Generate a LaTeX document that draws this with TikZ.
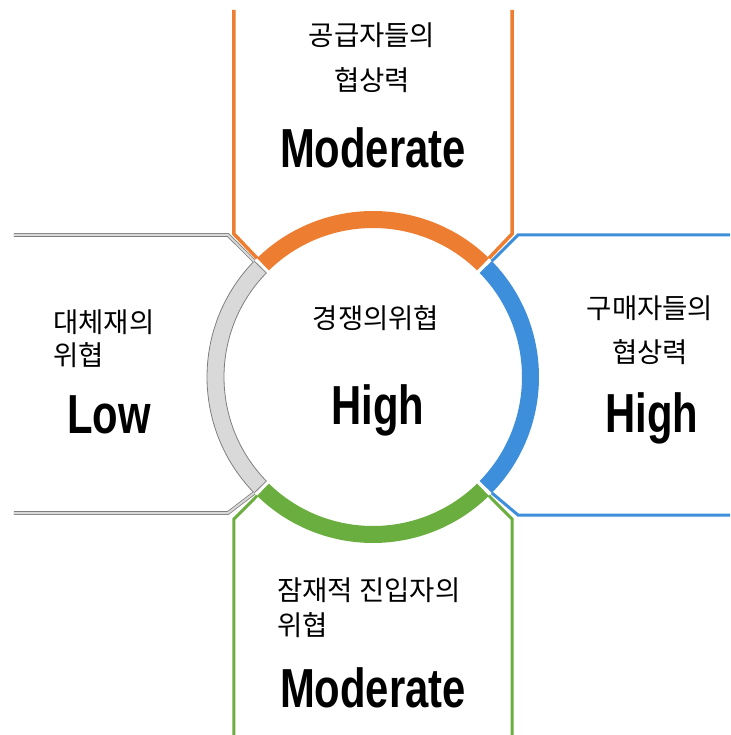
\documentclass[tikz,border=0pt]{standalone}
\usepackage{fontspec}
\setmainfont{Liberation Sans}
\newfontfamily\krfont{Noto Sans CJK KR}
\newfontfamily\levelfont[FakeStretch=0.76]{Liberation Sans}
\usepackage{tikz}
\usetikzlibrary{calc}
\definecolor{supplyorange}{HTML}{ED7D31}
\definecolor{buyerblue}{HTML}{3D8EDB}
\definecolor{entrygreen}{HTML}{6BAE40}
\definecolor{substfill}{HTML}{D9D9D9}
\definecolor{substedge}{HTML}{7F7F7F}
\newcommand{\ringpart}[3]{ \filldraw[#3] (#1:149pt) arc (#1:#2:149pt) -- (#2:166pt) arc (#2:#1:166pt) -- cycle;}
\newcommand{\kortext}[4]{\node[anchor=#3, inner sep=0pt, font=\krfont\fontsize{27.5}{30}\selectfont] (#1) at (#2) {#4};}
\newcommand{\leveltext}[3]{\node[inner sep=0pt, font=\levelfont\bfseries\fontsize{55}{60}\selectfont] (#1) at (#2) {#3};}

\begin{document}
\begin{tikzpicture}[x=1pt,y=1pt]
\useasboundingbox (-373,-358) rectangle (357,377);
% ring parts
\ringpart{134.3}{45.7}{fill=supplyorange, draw=none}
\ringpart{44.3}{-44.3}{fill=buyerblue, draw=none}
\ringpart{-45.7}{-134.3}{fill=entrygreen, draw=none}
\ringpart{135.7}{224.3}{fill=substfill, draw=substedge, line width=0.8pt}
% frames going out
\draw[supplyorange, line width=3.5pt] (-139,367) -- (-139,143) -- (134.3:166pt);
\draw[supplyorange, line width=3.5pt] (139,367) -- (139,143) -- (45.7:166pt);
\draw[buyerblue, line width=3pt] (357,142) -- (145,142) -- (44.3:166pt);
\draw[buyerblue, line width=3pt] (357,-138) -- (145,-138) -- (-44.3:166pt);
\draw[entrygreen, line width=3pt] (-139,-358) -- (-139,-142) -- (-134.3:166pt);
\draw[entrygreen, line width=3pt] (139,-358) -- (139,-142) -- (-45.7:166pt);
\draw[substedge, line width=0.8pt, double=substfill, double distance=2pt] (-359,142) -- (-145,142) -- (135.7:166pt);
\draw[substedge, line width=0.8pt, double=substfill, double distance=2pt] (-359,-136) -- (-145,-136) -- (224.3:166pt);
% top labels
\kortext{supply1}{-1,342}{center}{공급자들의}
\kortext{supply2}{-1,297}{center}{협상력}
\leveltext{supply3}{0,229}{Moderate}
% left labels
\kortext{subst1}{-320,55}{west}{대체재의}
\kortext{subst2}{-320,22}{west}{위협}
\leveltext{subst3}{-264,-38}{Low}
% centre labels
\kortext{rival1}{3,59}{center}{경쟁의위협}
\leveltext{rival2}{5,-33}{High}
% right labels
\kortext{buyer1}{277,69}{center}{구매자들의}
\kortext{buyer2}{277,25}{center}{협상력}
\leveltext{buyer3}{279,-41}{High}
% bottom labels
\kortext{entry1}{-96,-213}{west}{잠재적 진입자의}
\kortext{entry2}{-96,-248}{west}{위협}
\leveltext{entry3}{0,-311}{Moderate}
\end{tikzpicture}
\end{document}
